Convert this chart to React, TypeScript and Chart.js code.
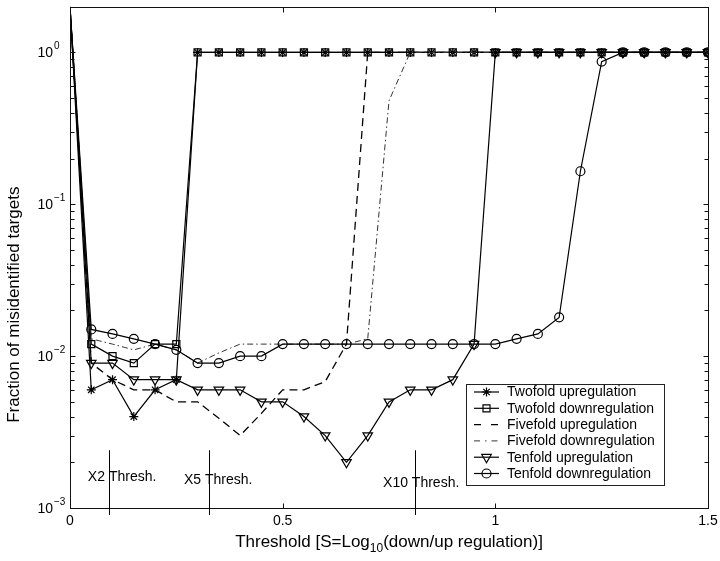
import React, { useEffect, useRef } from 'react';
import { Chart, registerables } from 'chart.js';

Chart.register(...registerables);

// ---------- data ----------
const THRESHOLD_S = [
  0, 0.05, 0.1, 0.15, 0.2, 0.25, 0.3, 0.35, 0.4, 0.45, 0.5, 0.55, 0.6, 0.65, 0.7, 0.75,
  0.8, 0.85, 0.9, 0.95, 1, 1.05, 1.1, 1.15, 1.2, 1.25, 1.3, 1.35, 1.4, 1.45, 1.5,
];

const TWOFOLD_UP = [
  2, 0.006, 0.007, 0.004, 0.006, 0.007, 1, 1, 1, 1, 1, 1, 1, 1, 1, 1,
  1, 1, 1, 1, 1, 1, 1, 1, 1, 1, 1, 1, 1, 1, 1,
];
const TWOFOLD_DOWN = [
  2, 0.012, 0.01, 0.009, 0.012, 0.012, 1, 1, 1, 1, 1, 1, 1, 1, 1, 1,
  1, 1, 1, 1, 1, 1, 1, 1, 1, 1, 1, 1, 1, 1, 1,
];
const FIVEFOLD_UP = [
  2, 0.009, 0.007, 0.006, 0.006, 0.005, 0.005, 0.0039, 0.003, 0.0042, 0.006, 0.006, 0.0068, 0.012, 1, 1,
  1, 1, 1, 1, 1, 1, 1, 1, 1, 1, 1, 1, 1, 1, 1,
];
const FIVEFOLD_DOWN = [
  2, 0.013, 0.012, 0.011, 0.012, 0.011, 0.009, 0.0105, 0.012, 0.012, 0.012, 0.012, 0.012, 0.012, 0.013, 0.48,
  1, 1, 1, 1, 1, 1, 1, 1, 1, 1, 1, 1, 1, 1, 1,
];
const TENFOLD_UP = [
  2, 0.009, 0.009, 0.007, 0.007, 0.007, 0.006, 0.006, 0.006, 0.005, 0.005, 0.004, 0.003, 0.002, 0.003, 0.005,
  0.006, 0.006, 0.007, 0.012, 1, 1, 1, 1, 1, 1, 1, 1, 1, 1, 1,
];
const TENFOLD_DOWN = [
  2, 0.015, 0.014, 0.013, 0.012, 0.011, 0.009, 0.009, 0.01, 0.01, 0.012, 0.012, 0.012, 0.012, 0.012, 0.012,
  0.012, 0.012, 0.012, 0.012, 0.012, 0.013, 0.014, 0.018, 0.165, 0.87, 1, 1, 1, 1, 1,
];

const SERIES_NAMES = [
  'Twofold upregulation',
  'Twofold downregulation',
  'Fivefold upregulation',
  'Fivefold downregulation',
  'Tenfold upregulation',
  'Tenfold downregulation',
];

const X_TICKS = [0, 0.5, 1, 1.5];
const X_TICK_LABELS = ['0', '0.5', '1', '1.5'];
const Y_MAJOR_TICKS = [0.001, 0.01, 0.1, 1];
const Y_EXPONENTS = ['\u22123', '\u22122', '\u22121', '0'];
const Y_MINOR_TICKS = [
  0.002, 0.003, 0.004, 0.005, 0.006, 0.007, 0.008, 0.009,
  0.02, 0.03, 0.04, 0.05, 0.06, 0.07, 0.08, 0.09,
  0.2, 0.3, 0.4, 0.5, 0.6, 0.7, 0.8, 0.9, 2,
];

// threshold markers
const THRESH_LABELS = ['X2 Thresh.', 'X5 Thresh.', 'X10 Thresh.'];
const THRESH_X = [0.092, 0.327, 0.811];
const THRESH_LINE_Y = [0.0009, 0.0024];
const THRESH_TEXT_X = [0.042, 0.268, 0.736];
const THRESH_TEXT_Y = [0.0016, 0.00153, 0.00146];

const FONT = '"Liberation Sans", Arial, Helvetica, sans-serif';

type Style = {
  dash: number[];
  marker: string | null;
  radius: number;
  width: number;
  color: string;
};
const STYLES: Style[] = [
  { dash: [], marker: 'star', radius: 4.5, width: 1.2, color: '#000' },
  { dash: [], marker: 'rect', radius: 5, width: 1.2, color: '#000' },
  { dash: [8, 5], marker: null, radius: 0, width: 1.3, color: '#000' },
  { dash: [6, 3, 1.5, 3], marker: null, radius: 0, width: 1, color: '#333' },
  { dash: [], marker: 'triangle', radius: 5.5, width: 1.2, color: '#000' },
  { dash: [], marker: 'circle', radius: 4.5, width: 1.2, color: '#000' },
];

function drawMarker(ctx: CanvasRenderingContext2D, kind: string | null, x: number, y: number) {
  if (!kind) return;
  ctx.save();
  ctx.setLineDash([]);
  ctx.lineWidth = 1.2;
  ctx.strokeStyle = '#000';
  ctx.beginPath();
  if (kind === 'star') {
    const r = 4.5;
    for (let k = 0; k < 4; k++) {
      const ang = (k * Math.PI) / 4;
      ctx.moveTo(x - Math.cos(ang) * r, y - Math.sin(ang) * r);
      ctx.lineTo(x + Math.cos(ang) * r, y + Math.sin(ang) * r);
    }
  } else if (kind === 'rect') {
    ctx.rect(x - 3.5, y - 3.5, 7, 7);
  } else if (kind === 'triangle') {
    const r = 5.5;
    ctx.moveTo(x, y + r);
    ctx.lineTo(x - r * 0.866, y - r * 0.5);
    ctx.lineTo(x + r * 0.866, y - r * 0.5);
    ctx.closePath();
  } else if (kind === 'circle') {
    ctx.arc(x, y, 4.5, 0, Math.PI * 2);
  }
  ctx.stroke();
  ctx.restore();
}

const axesPlugin = {
  id: 'matlabAxes',
  afterDatasetsDraw(chart: any) {
    const { ctx, chartArea: a, scales } = chart;
    const xs = scales.x;
    const ys = scales.y;
    const L = Math.round(a.left) + 0.5;
    const R = Math.round(a.right) + 0.5;
    const T = Math.round(a.top) + 0.5;
    const B = Math.round(a.bottom) + 0.5;
    ctx.save();
    ctx.strokeStyle = '#111';
    ctx.lineWidth = 1;
    ctx.setLineDash([]);
    ctx.strokeRect(L, T, R - L, B - T);

    // ticks
    const major = 5;
    const minor = 4;
    ctx.beginPath();
    X_TICKS.forEach((v) => {
      const px = Math.round(xs.getPixelForValue(v)) + 0.5;
      ctx.moveTo(px, B);
      ctx.lineTo(px, B - major);
      ctx.moveTo(px, T);
      ctx.lineTo(px, T + major);
    });
    Y_MAJOR_TICKS.forEach((v) => {
      const py = Math.round(ys.getPixelForValue(v)) + 0.5;
      ctx.moveTo(L, py);
      ctx.lineTo(L + major, py);
      ctx.moveTo(R, py);
      ctx.lineTo(R - major, py);
    });
    Y_MINOR_TICKS.forEach((v) => {
      const py = Math.round(ys.getPixelForValue(v)) + 0.5;
      ctx.moveTo(L, py);
      ctx.lineTo(L + minor, py);
      ctx.moveTo(R, py);
      ctx.lineTo(R - minor, py);
    });
    ctx.stroke();

    // tick labels
    ctx.fillStyle = '#000';
    ctx.font = `14px ${FONT}`;
    ctx.textAlign = 'center';
    ctx.textBaseline = 'middle';
    X_TICKS.forEach((v, i) => {
      ctx.fillText(X_TICK_LABELS[i], xs.getPixelForValue(v), a.bottom + 13);
    });
    Y_MAJOR_TICKS.forEach((v, i) => {
      const py = ys.getPixelForValue(v);
      ctx.font = `14px ${FONT}`;
      ctx.textAlign = 'right';
      ctx.fillText('10', a.left - 17, py + 1);
      ctx.font = `10px ${FONT}`;
      ctx.textAlign = 'left';
      ctx.fillText(Y_EXPONENTS[i], a.left - 16, py - 6);
    });

    // x title with subscript
    const parts = ['Threshold [S=Log', '10', '(down/up regulation)]'];
    ctx.textBaseline = 'middle';
    ctx.font = `17px ${FONT}`;
    const w0 = ctx.measureText(parts[0]).width;
    const w2 = ctx.measureText(parts[2]).width;
    ctx.font = `12px ${FONT}`;
    const w1 = ctx.measureText(parts[1]).width;
    const total = w0 + w1 + w2;
    let cx = (a.left + a.right) / 2 - total / 2;
    const ty = a.bottom + 34;
    ctx.textAlign = 'left';
    ctx.font = `17px ${FONT}`;
    ctx.fillText(parts[0], cx, ty);
    cx += w0;
    ctx.font = `12px ${FONT}`;
    ctx.fillText(parts[1], cx, ty + 7);
    cx += w1;
    ctx.font = `17px ${FONT}`;
    ctx.fillText(parts[2], cx, ty);

    // y title
    ctx.save();
    ctx.translate(14, a.top + 298);
    ctx.rotate(-Math.PI / 2);
    ctx.textAlign = 'center';
    ctx.textBaseline = 'middle';
    ctx.font = `17px ${FONT}`;
    ctx.fillText('Fraction of misidentified targets', 0, 0);
    ctx.restore();

    // threshold markers
    ctx.strokeStyle = '#000';
    ctx.lineWidth = 1;
    ctx.beginPath();
    THRESH_X.forEach((v) => {
      const px = Math.round(xs.getPixelForValue(v)) + 0.5;
      ctx.moveTo(px, ys.getPixelForValue(THRESH_LINE_Y[0]));
      ctx.lineTo(px, ys.getPixelForValue(THRESH_LINE_Y[1]));
    });
    ctx.stroke();
    ctx.font = `14px ${FONT}`;
    ctx.textAlign = 'left';
    ctx.textBaseline = 'middle';
    THRESH_LABELS.forEach((t, i) => {
      ctx.fillText(t, xs.getPixelForValue(THRESH_TEXT_X[i]), ys.getPixelForValue(THRESH_TEXT_Y[i]));
    });

    // legend
    const lx = a.right - 242;
    const ly = a.bottom - 124;
    const lw = 198;
    const lh = 101;
    ctx.fillStyle = '#fff';
    ctx.fillRect(lx, ly, lw, lh);
    ctx.strokeStyle = '#222';
    ctx.lineWidth = 1;
    ctx.strokeRect(Math.round(lx) + 0.5, Math.round(ly) + 0.5, lw, lh);
    SERIES_NAMES.forEach((name, i) => {
      const st = STYLES[i];
      const yy = ly + 8 + i * 16.3;
      ctx.save();
      ctx.strokeStyle = st.color;
      ctx.lineWidth = st.width;
      ctx.setLineDash(i === 2 ? [7, 10] : i === 3 ? [6, 5, 1.5, 5] : []);
      ctx.beginPath();
      ctx.moveTo(lx + 8, yy);
      ctx.lineTo(lx + 33, yy);
      ctx.stroke();
      ctx.restore();
      drawMarker(ctx, st.marker, lx + 20.5, yy);
      ctx.fillStyle = '#000';
      ctx.font = `14px ${FONT}`;
      ctx.textAlign = 'left';
      ctx.textBaseline = 'middle';
      ctx.fillText(name, lx + 41, yy + 0.5);
    });
    ctx.restore();
  },
};

const SERIES = [TWOFOLD_UP, TWOFOLD_DOWN, FIVEFOLD_UP, FIVEFOLD_DOWN, TENFOLD_UP, TENFOLD_DOWN];

export default function App() {
  const ref = useRef<HTMLCanvasElement>(null);
  useEffect(() => {
    document.body.style.margin = '0';
    const datasets = SERIES.map((vals, i) => {
      const st = STYLES[i];
      return {
        label: SERIES_NAMES[i],
        data: THRESHOLD_S.map((x, j) => ({ x, y: vals[j] })),
        borderColor: st.color,
        borderWidth: st.width,
        borderDash: st.dash,
        backgroundColor: 'rgba(0,0,0,0)',
        pointStyle: st.marker || 'circle',
        pointRadius: (c: any) => (c.dataIndex === 0 ? 0 : st.radius),
        pointRotation: st.marker === 'triangle' ? 180 : 0,
        pointBorderColor: '#000',
        pointBorderWidth: 1.2,
        pointBackgroundColor: 'rgba(0,0,0,0)',
        fill: false,
        tension: 0,
        order: 6 - i,
      };
    });
    const chart = new Chart(ref.current as HTMLCanvasElement, {
      type: 'line',
      data: { datasets },
      options: {
        responsive: false,
        animation: false,
        devicePixelRatio: 1,
        events: [],
        layout: { padding: { left: 70, right: 12, top: 5, bottom: 53 } },
        scales: {
          x: { type: 'linear', min: 0, max: 1.5, display: false },
          y: { type: 'logarithmic', min: 0.001, max: 2, display: false },
        },
        plugins: {
          legend: { display: false },
          tooltip: { enabled: false },
          title: { display: false },
        },
      },
      plugins: [axesPlugin],
    } as any);
    return () => chart.destroy();
  }, []);
  return (
    <div style={{ position: 'absolute', left: 0, top: 0, width: 720, height: 561, background: '#fff' }}>
      <canvas ref={ref} width={720} height={561} style={{ display: 'block', width: 720, height: 561 }} />
    </div>
  );
}
